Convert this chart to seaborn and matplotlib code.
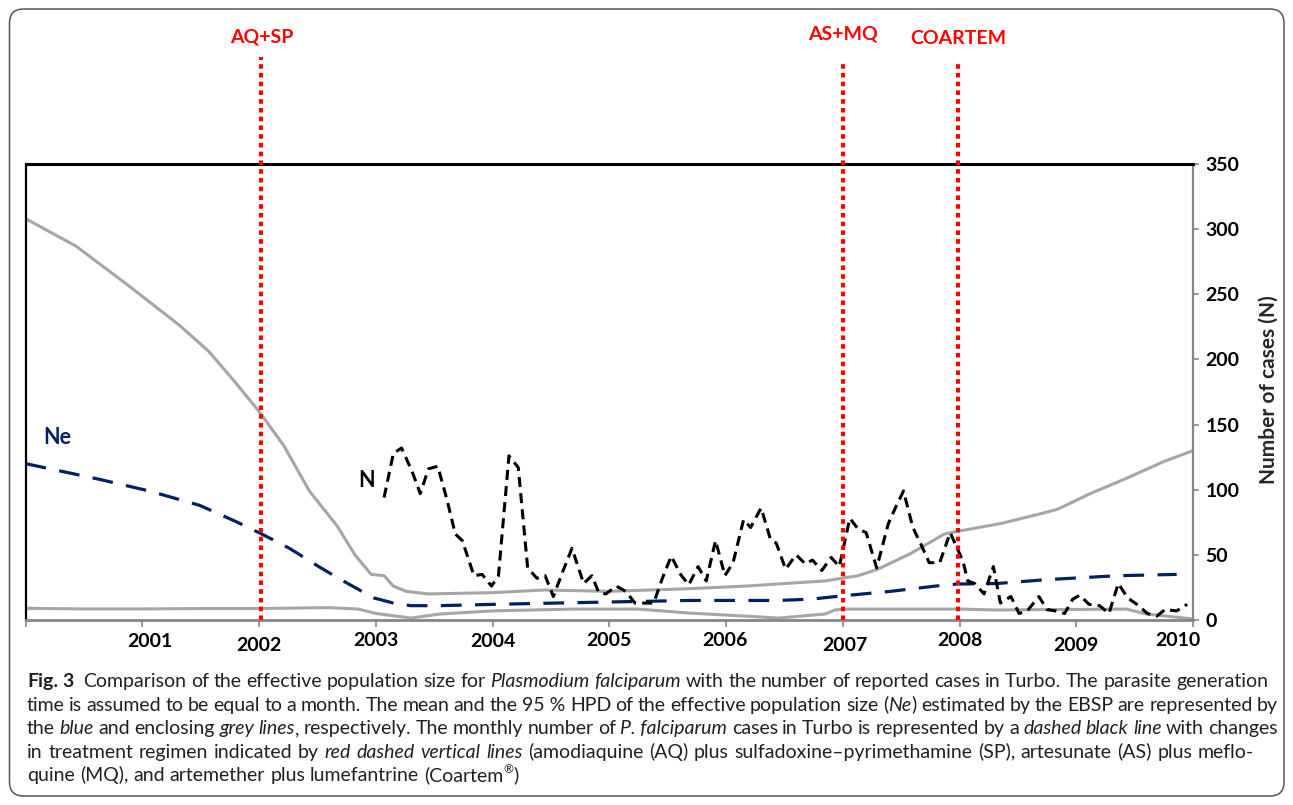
import matplotlib
matplotlib.use('Agg')
import matplotlib.pyplot as plt
import seaborn as sns
from matplotlib.patches import FancyBboxPatch

# ---- data ----
# 95 % HPD upper bound of Ne (grey)
hpd_up_year = [2000.0, 2000.43, 2000.89, 2001.32, 2001.57, 2001.79, 2002.0, 2002.21, 2002.43,
               2002.67, 2002.82, 2002.96, 2003.07, 2003.15, 2003.26, 2003.45, 2004.0, 2004.44,
               2005.0, 2005.68, 2006.16, 2006.85, 2007.13, 2007.3, 2007.58, 2007.87, 2007.98,
               2008.35, 2008.67, 2008.84, 2009.12, 2009.41, 2009.61, 2009.76, 2010.0]
hpd_up = [308, 287, 256, 226, 206, 183, 160, 134, 99,
          72, 50, 35, 34, 26, 22, 20, 21, 23,
          22, 24, 26, 30, 34, 39, 51, 66, 68,
          74, 81, 85, 97, 108, 116, 122, 130]

# 95 % HPD lower bound of Ne (grey)
hpd_low_year = [2000.0, 2000.5, 2001.0, 2001.5, 2002.0, 2002.6, 2002.85, 2003.0, 2003.3,
                2003.55, 2004.0, 2004.7, 2005.25, 2005.67, 2006.16, 2006.45, 2006.85, 2006.93,
                2007.02, 2008.0, 2008.3, 2009.43, 2009.6, 2010.0]
hpd_low = [9, 8.5, 8.5, 8.8, 8.8, 9.5, 8.4, 5, 1.5,
           4.6, 7, 8.4, 8.4, 5.4, 3, 1.5, 4.6, 7.7,
           8.4, 8.4, 7.7, 8.4, 4.6, 0.8]

# mean Ne (blue dashed)
ne_year = [2000.0, 2000.63, 2001.06, 2001.49, 2001.79, 2002.0, 2002.26, 2002.51, 2002.68,
           2002.84, 2002.98, 2003.15, 2003.3, 2003.54, 2004.0, 2004.54, 2005.68, 2006.44,
           2006.73, 2006.98, 2007.41, 2007.79, 2007.98, 2008.32, 2008.75, 2009.35, 2009.86]
ne_mean = [120, 108, 99, 88, 76, 67, 55, 41, 32,
           24, 17, 13, 11, 11, 12, 13, 15, 15,
           16, 18.4, 22, 26, 27.6, 28, 31, 34, 35]

# monthly number of P. falciparum cases in Turbo (black dashed)
n_year = [2003.07, 2003.15, 2003.22, 2003.31, 2003.38, 2003.45, 2003.53, 2003.61, 2003.68, 2003.74,
          2003.84, 2003.91, 2003.99, 2004.05, 2004.14, 2004.22, 2004.30, 2004.38, 2004.45, 2004.52,
          2004.60, 2004.68, 2004.78, 2004.85, 2004.91, 2004.97, 2005.06, 2005.14, 2005.22, 2005.30,
          2005.38, 2005.45, 2005.53, 2005.61, 2005.68, 2005.76, 2005.83, 2005.91, 2005.99, 2006.06,
          2006.15, 2006.21, 2006.30, 2006.38, 2006.43, 2006.51, 2006.60, 2006.68, 2006.74, 2006.82,
          2006.90, 2006.97, 2007.06, 2007.13, 2007.20, 2007.29, 2007.39, 2007.45, 2007.52, 2007.60,
          2007.67, 2007.74, 2007.83, 2007.92, 2008.03, 2008.07, 2008.13, 2008.21, 2008.29, 2008.35,
          2008.44, 2008.51, 2008.58, 2008.68, 2008.75, 2008.82, 2008.90, 2008.97, 2009.03, 2009.11,
          2009.20, 2009.28, 2009.36, 2009.44, 2009.52, 2009.61, 2009.69, 2009.76, 2009.86, 2009.95]
n_cases = [94, 128, 132, 114, 97, 116, 118, 92, 66, 61,
           34, 35, 26, 34, 126, 117, 40, 32, 34, 18,
           37, 55, 28, 34, 21, 20, 26, 22, 13, 13,
           13, 31, 49, 35, 27, 41, 30, 61, 34, 44,
           77, 71, 86, 62, 59, 39, 50, 43, 46, 38,
           48, 41, 78, 70, 67, 40, 74, 86, 99, 71,
           58, 44, 44, 67, 45, 30, 28, 20, 41, 13,
           18, 5, 7, 18, 8, 7, 5, 16, 19, 12,
           11, 5, 28, 17, 12, 5, 3, 8, 7, 12]

# treatment changes
treatments = ['AQ+SP', 'AS+MQ', 'COARTEM']
treatment_year = [2002.02, 2007.0, 2007.99]

year_ticks = [2000, 2001, 2002, 2003, 2004, 2005, 2006, 2007, 2008, 2009, 2010]
year_labels = ['2001', '2002', '2003', '2004', '2005', '2006', '2007', '2008', '2009', '2010']
case_ticks = [0, 50, 100, 150, 200, 250, 300, 350]

caption_lines = [
    [("Fig. 3", "bold"), ("  Comparison of the effective population size for ", "normal"),
     ("Plasmodium falciparum", "italic"),
     (" with the number of reported cases in Turbo. The parasite generation", "normal")],
    [("time is assumed to be equal to a month. The mean and the 95\u00a0% HPD of the effective "
      "population size (", "normal"), ("Ne", "italic"),
     (") estimated by the EBSP are represented by", "normal")],
    [("the ", "normal"), ("blue", "italic"), (" and enclosing ", "normal"), ("grey lines", "italic"),
     (", respectively. The monthly number of ", "normal"), ("P.\u00a0falciparum", "italic"),
     (" cases in Turbo is represented by a ", "normal"), ("dashed black line", "italic"),
     (" with changes", "normal")],
    [("in treatment regimen indicated by ", "normal"), ("red dashed vertical lines", "italic"),
     (" (amodiaquine (AQ) plus sulfadoxine\u2013pyrimethamine (SP), artesunate (AS) plus meflo-", "normal")],
    [("quine (MQ), and artemether plus lumefantrine (Coartem", "normal"), ("\u00ae", "sup"),
     (")", "normal")],
]

# ---- layout / style ----
W, H = 1293, 805
GREY = '#a6a6a6'
NAVY = '#002060'
RED = '#ff0000'
AXIS_GREY = '#868686'
CAP_COLOR = '#231f20'

sns.set_style('white')
plt.rcParams['font.family'] = ['Lato', 'DejaVu Sans']

fig = plt.figure(figsize=(W / 100, H / 100), dpi=100)
ax = fig.add_axes([25.7 / W, 1 - 620 / H, (1193 - 25.7) / W, 456 / H])

sns.lineplot(x=hpd_up_year, y=hpd_up, ax=ax, color=GREY, linewidth=2.2, estimator=None, zorder=2)
sns.lineplot(x=hpd_low_year, y=hpd_low, ax=ax, color=GREY, linewidth=2.2, estimator=None, zorder=2)
sns.lineplot(x=ne_year, y=ne_mean, ax=ax, color=NAVY, linewidth=2.3, estimator=None,
             linestyle=(0, (6.5, 4.2)), zorder=3)
sns.lineplot(x=n_year, y=n_cases, ax=ax, color='black', linewidth=2.2, estimator=None,
             linestyle=(0, (3.3, 2.0)), zorder=4)

tops = [1.235, 1.222, 1.222]
label_y = [1.278, 1.285, 1.276]
for name, yr, top, ly in zip(treatments, treatment_year, tops, label_y):
    ax.axvline(yr, ymin=0, ymax=top, color=RED, linewidth=3.0, linestyle=(0, (1.1, 1.0)),
               clip_on=False, zorder=5)
    ax.text(yr, ly, name, transform=ax.get_xaxis_transform(), color=RED, fontsize=14,
            fontweight='bold', ha='center', va='center')

ax.text(2000.27, 140, 'Ne', color=NAVY, fontsize=15.5, fontweight='bold', ha='center', va='center')
ax.text(2002.92, 107, 'N', color='black', fontsize=15.5, fontweight='bold', ha='center', va='center')

ax.set_xlim(2000, 2010)
ax.set_ylim(0, 350)
ax.set_xlabel('')
ax.set_ylabel('')

ax.set_xticks(year_ticks)
ax.set_xticklabels([])
ax.tick_params(axis='x', direction='out', length=5, width=1.2, color=AXIS_GREY, bottom=True)
label_x = [2001.06, 2002.0, 2003.0, 2004.0, 2005.0, 2005.99, 2007.02, 2008.0, 2009.0, 2009.87]
label_dy = [-0.047, -0.056, -0.045, -0.047, -0.045, -0.045, -0.056, -0.045, -0.056, -0.045]
for lx, dy, lab in zip(label_x, label_dy, year_labels):
    ax.text(lx, dy, lab, transform=ax.get_xaxis_transform(), fontsize=14, fontweight='bold',
            ha='center', va='center', color='black')

ax.yaxis.tick_right()
ax.set_yticks(case_ticks)
ax.set_yticklabels([str(v) for v in case_ticks], fontweight='bold')
ax.tick_params(axis='y', direction='out', length=4, width=1.2, color=AXIS_GREY, labelsize=14,
               pad=5, right=True, left=False, labelcolor='black')
ax.text(1.0645, 0.505, 'Number of cases (N)', transform=ax.transAxes, rotation=90, fontsize=15,
        fontweight='bold', ha='center', va='center')

for side, col, lw in [('top', 'black', 2.2), ('left', 'black', 1.6),
                      ('right', AXIS_GREY, 1.6), ('bottom', AXIS_GREY, 2.0)]:
    ax.spines[side].set_visible(True)
    ax.spines[side].set_color(col)
    ax.spines[side].set_linewidth(lw)

# outer rounded frame
frame = FancyBboxPatch((0.095, 0.09), 12.745, 7.87, boxstyle='round,pad=0,rounding_size=0.14',
                       transform=fig.dpi_scale_trans, facecolor='none', edgecolor='#555555',
                       linewidth=1.1)
fig.add_artist(frame)

# ---- caption, justified ----
cap_size = 14.0
renderer = fig.canvas.get_renderer()


def make_text(txt, style):
    kw = dict(fontsize=cap_size, color=CAP_COLOR, ha='left', va='baseline')
    if style == 'italic':
        kw['fontstyle'] = 'italic'
    elif style == 'bold':
        kw['fontweight'] = 'bold'
    elif style == 'sup':
        kw['fontsize'] = cap_size * 0.62
    return fig.text(0, 0, txt, **kw)


def width_of(t):
    return t.get_window_extent(renderer=renderer).width


def split_words(segs):
    words, gaps = [[]], []
    for txt, style in segs:
        for k, part in enumerate(txt.split(' ')):
            if k > 0:
                if words[-1]:
                    words.append([])
                    gaps.append(1.0)
                elif gaps:
                    gaps[-1] += 1.0
            if part:
                words[-1].append((part, style))
    return words, gaps


probe_a = make_text('n n', 'normal')
probe_b = make_text('nn', 'normal')
space_w = width_of(probe_a) - width_of(probe_b)
probe_a.remove()
probe_b.remove()

cap_left = 27
cap_right = [1268, 1278, 1278, 1254, None]
cap_base = [687, 710.5, 734, 757.5, 781]
for segs, right, base in zip(caption_lines, cap_right, cap_base):
    words, gaps = split_words(segs)
    placed = []
    total = 0.0
    for w in words:
        parts = []
        for txt, style in w:
            t = make_text(txt, style)
            parts.append((t, style, width_of(t)))
        placed.append(parts)
        total += sum(p[2] for p in parts)
    if right is None:
        unit = space_w
    else:
        unit = (right - cap_left - total) / sum(gaps)
    x = cap_left
    for i, parts in enumerate(placed):
        for t, style, wd in parts:
            y = base - (cap_size * 100 / 72 * 0.4 if style == 'sup' else 0)
            t.set_position((x / W, 1 - y / H))
            x += wd
        if i < len(gaps):
            x += unit * gaps[i]

fig.savefig('out.png', dpi=100)
